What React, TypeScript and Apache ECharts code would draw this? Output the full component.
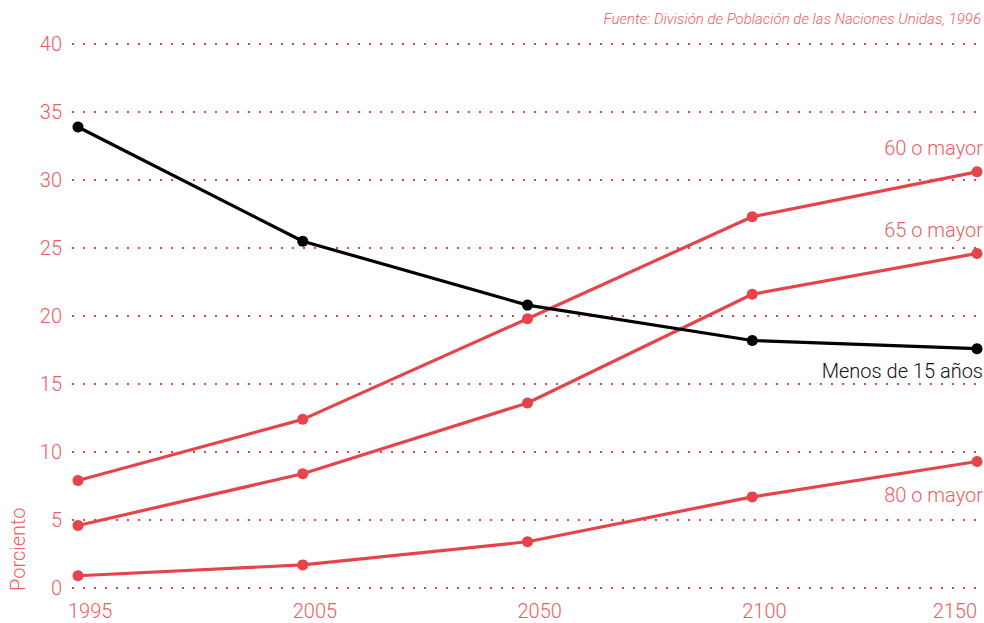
import React, { useEffect, useRef } from "react";
import * as echarts from "echarts";

const years = ["1995", "2005", "2050", "2100", "2150"];
const menos15 = [33.9, 25.5, 20.8, 18.2, 17.6];
const mayor60 = [7.9, 12.4, 19.8, 27.3, 30.6];
const mayor65 = [4.6, 8.4, 13.6, 21.6, 24.6];
const mayor80 = [0.9, 1.7, 3.4, 6.7, 9.3];
const seriesNames = ["Menos de 15 años", "60 o mayor", "65 o mayor", "80 o mayor"];

const RED = "#e6444b";
const TEXT_RED = "#ee5c62";
const FONT = "Roboto, 'Liberation Sans', sans-serif";
const FS = 20;

function withEndLabel(values: number[], name: string, pos: string, offset: number[], color: string) {
  return values.map((v, i) =>
    i === values.length - 1
      ? {
          value: v,
          label: {
            show: true,
            formatter: name,
            position: pos,
            align: "right",
            offset,
            color,
            fontSize: FS,
            fontFamily: FONT,
            fontWeight: 300,
          },
        }
      : v
  );
}

export default function App() {
  const ref = useRef<HTMLDivElement>(null);
  useEffect(() => {
    document.body.style.margin = "0";
    if (!ref.current) return;
    const chart = echarts.init(ref.current, undefined, { renderer: "svg" });
    const lineSeries = (name: string, data: any[], color: string) => ({
      name,
      type: "line",
      xAxisIndex: 1,
      yAxisIndex: 1,
      data,
      symbol: "circle",
      symbolSize: 11,
      lineStyle: { color, width: 3.2 },
      itemStyle: { color },
      z: color === RED ? 3 : 4,
    });
    chart.setOption({
      animation: false,
      backgroundColor: "#ffffff",
      textStyle: { fontFamily: FONT },
      graphic: [
        {
          type: "text",
          right: 3,
          top: 11,
          style: {
            text: "Fuente: División de Población de las Naciones Unidas, 1996",
            fill: TEXT_RED,
            font: "italic 300 15px " + FONT,
          },
        },
        {
          type: "text",
          x: 8,
          y: 591,
          rotation: Math.PI / 2,
          style: {
            text: "Porciento",
            fill: TEXT_RED,
            font: "300 20px " + FONT,
            textAlign: "left",
            textVerticalAlign: "top",
          },
        },
      ],
      grid: [
        { left: 72, right: 4, top: 44, bottom: 35 },
        { left: 78, right: 7, top: 44, bottom: 35 },
      ],
      xAxis: [
        { type: "value", gridIndex: 0, show: false, min: 0, max: 1 },
        {
          type: "category",
          gridIndex: 1,
          data: years,
          boundaryGap: false,
          axisLine: { show: false },
          axisTick: { show: false },
          axisLabel: {
            color: TEXT_RED,
            fontSize: FS,
            fontFamily: FONT,
            fontWeight: 300,
            margin: 13,
            align: "left",
            alignMaxLabel: "right",
            padding: [0, 0, 0, -10],
          },
        },
      ],
      yAxis: [
        {
          type: "value",
          gridIndex: 0,
          min: 0,
          max: 40,
          interval: 5,
          axisLine: { show: false },
          axisTick: { show: false },
          axisLabel: {
            color: TEXT_RED,
            fontSize: FS,
            fontFamily: FONT,
            fontWeight: 300,
            margin: 10,
          },
          splitLine: {
            show: true,
            lineStyle: { color: RED, width: 2, type: [2, 9] },
          },
        },
        { type: "value", gridIndex: 1, min: 0, max: 40, show: false },
      ],
      series: [
        lineSeries(seriesNames[1], withEndLabel(mayor60, seriesNames[1], "top", [6, -3], TEXT_RED), RED),
        lineSeries(seriesNames[2], withEndLabel(mayor65, seriesNames[2], "top", [6, -3], TEXT_RED), RED),
        lineSeries(seriesNames[3], withEndLabel(mayor80, seriesNames[3], "bottom", [6, 13], TEXT_RED), RED),
        lineSeries(seriesNames[0], withEndLabel(menos15, seriesNames[0], "bottom", [6, 2], "#111111"), "#000000"),
      ],
    });
    return () => chart.dispose();
  }, []);
  return <div ref={ref} style={{ width: 984, height: 623 }} />;
}
